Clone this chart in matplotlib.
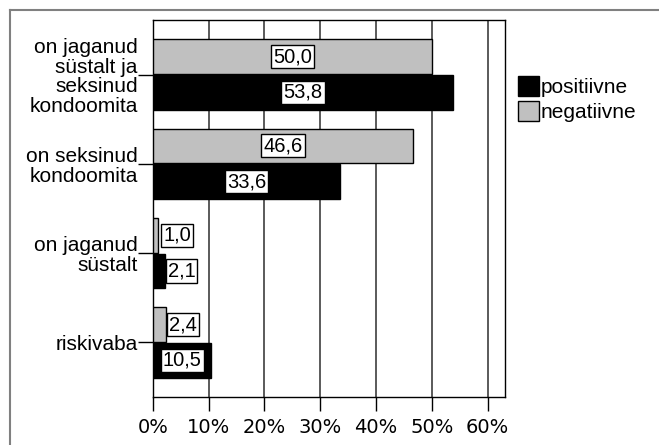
import numpy as np
import matplotlib.pyplot as plt
from matplotlib.lines import Line2D
from matplotlib.patches import Patch

# andmed (ülevalt alla)
categories = ["on jaganud\nsüstalt ja\nseksinud\nkondoomita",
              "on seksinud\nkondoomita",
              "on jaganud\nsüstalt",
              "riskivaba"]
negatiivne = [50.0, 46.6, 1.0, 2.4]
positiivne = [53.8, 33.6, 2.1, 10.5]
xticks = [0, 10, 20, 30, 40, 50, 60]
xtick_labels = ["0%", "10%", "20%", "30%", "40%", "50%", "60%"]

gray = "#c0c0c0"
label_font = "Liberation Sans"

fig = plt.figure(figsize=(6.59, 4.45), dpi=100)
ax = fig.add_axes([0.232, 0.108, 0.535, 0.847])

y = np.arange(len(categories))
bar_h = 0.39
off = 0.2

ax.barh(y - off, negatiivne, height=bar_h, color=gray, edgecolor="black", linewidth=1, zorder=3)
ax.barh(y + off, positiivne, height=bar_h, color="black", edgecolor="black", linewidth=1, zorder=3)

def add_label(v, yy):
    txt = f"{v:.1f}".replace(".", ",")
    if v >= 8:
        x, ha = v / 2, "center"
    else:
        x, ha = max(v, 1.3) + 0.55, "left"
    ax.text(x, yy, txt, ha=ha, va="center", fontsize=14.5, family=label_font,
            color="black", zorder=5,
            bbox=dict(boxstyle="square,pad=0.1", facecolor="white", edgecolor="black", linewidth=1))

for i in range(len(categories)):
    add_label(negatiivne[i], y[i] - off)
    add_label(positiivne[i], y[i] + off)

ax.set_xlim(0, 63.2)
ax.set_ylim(3.61, -0.61)
ax.set_xticks(xticks)
ax.set_xticklabels(xtick_labels, family="DejaVu Sans", fontsize=14)
ax.set_yticks(y)
ax.set_yticklabels(categories, family=label_font, fontsize=15, linespacing=1.05, ha="right")

ax.tick_params(axis="y", direction="out", length=11, width=1, pad=0)
ax.tick_params(axis="x", direction="out", length=10, width=1, pad=5)
ax.xaxis.grid(True, color="0.3", linewidth=1.3, zorder=0)
ax.set_axisbelow(True)
for s in ax.spines.values():
    s.set_color("black")
    s.set_linewidth(1)

handles = [Patch(facecolor="black", edgecolor="black", label="positiivne"),
           Patch(facecolor=gray, edgecolor="black", label="negatiivne")]
fig.legend(handles=handles, loc="upper left", bbox_to_anchor=(0.786, 0.83),
           frameon=False, prop={"family": label_font, "size": 15},
           handlelength=1.0, handleheight=1.1, handletextpad=0.1,
           labelspacing=0.2, borderpad=0, borderaxespad=0)

# välimine raam
fig.add_artist(Line2D([10 / 659, 1], [1 - 10 / 445, 1 - 10 / 445], color="0.5", linewidth=1.5))
fig.add_artist(Line2D([10 / 659, 10 / 659], [0, 1 - 10 / 445], color="0.5", linewidth=1.5))

plt.savefig("out.png", dpi=100)
